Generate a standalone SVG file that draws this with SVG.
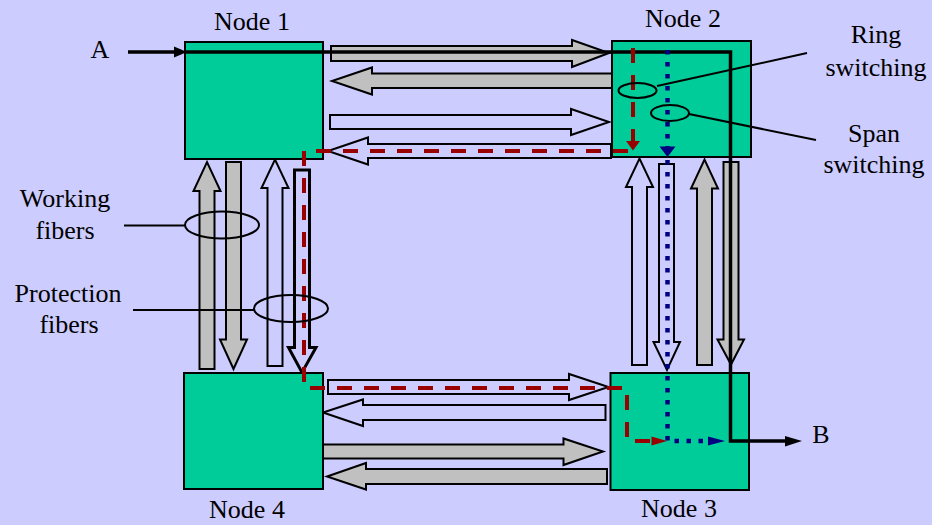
<svg xmlns="http://www.w3.org/2000/svg" width="932" height="525" viewBox="0 0 932 525">
<style>
.bg{fill:#CCCCFF}
.node{fill:#00CC99;stroke:#000;stroke-width:2}
.gray{fill:#C0C0C0;stroke:#000;stroke-width:2;stroke-linejoin:miter}
.hollow{fill:none;stroke:#000;stroke-width:2}
.hollow3{fill:none;stroke:#000;stroke-width:3}
.lbl{font-family:"Liberation Serif","Times New Roman",serif;font-size:26px;fill:#000;text-anchor:middle}
.thin{fill:none;stroke:#000;stroke-width:2}
.path{fill:none;stroke:#000;stroke-width:3.5}
.red{fill:none;stroke:#990000;stroke-width:4;stroke-dasharray:15 12}
.redh{fill:#990000}
.blue{fill:none;stroke:#000080;stroke-width:4.5;stroke-dasharray:4.5 7.5}
.blueh{fill:#000080}
.blk{fill:#000}
</style>
<rect class="bg" x="0" y="0" width="932" height="525"/>

<g id="fibers">
  <!-- top span -->
  <polygon class="gray" points="331,46 572,46 572,40 609,53 572,67 572,61 331,61"/>
  <polygon class="gray" points="612,73.5 372,73.5 372,67.5 332,81 372,94.5 372,88 612,88"/>
  <polygon class="hollow" points="330,115 571,115 571,109 609,122 571,135 571,129 330,129"/>
  <polygon class="hollow" points="611,144 368,144 368,137.5 328,151 368,164.5 368,158 611,158"/>
  <!-- left span -->
  <polygon class="gray" points="199.5,369 199.5,191 193.5,191 207,162 220.5,191 214.5,191 214.5,369"/>
  <polygon class="gray" points="226,162 241,162 241,339.5 247,339.5 233.5,369 220,339.5 226,339.5"/>
  <polygon class="hollow" points="267.5,366 267.5,188 261.5,188 275,159.5 288.5,188 282.5,188 282.5,366"/>
  <polygon class="hollow3" points="294.5,170 309.5,170 309.5,347.5 316,347.5 302,372.5 288.5,347.5 294.5,347.5"/>
  <!-- right span -->
  <polygon class="hollow" points="632,365 632,187 626,187 639.5,158.5 653,187 647,187 647,365"/>
  <polygon class="hollow" points="659,164 674,164 674,342 680,342 667,370 653.5,342 659,342"/>
  <polygon class="gray" points="697,365 697,188.5 691,188.5 704.5,159.5 718,188.5 712,188.5 712,365"/>
  <polygon class="gray" points="723.5,162 738.5,162 738.5,339.5 744,339.5 731,364.5 717.5,339.5 723.5,339.5"/>
  <!-- bottom span -->
  <polygon class="hollow" points="328,380 569,380 569,374 608.5,387 569,400 569,394 328,394"/>
  <polygon class="hollow" points="605.5,405 363,405 363,399.5 323,412.5 363,426 363,420 605.5,420"/>
  <polygon class="gray" points="323,444.5 563.5,444.5 563.5,438.5 603,451.5 563.5,465 563.5,458.5 323,458.5"/>
  <polygon class="gray" points="607,469 366,469 366,463 327,476.5 366,489.5 366,484 607,484"/>
</g>

<g id="node1">
  <rect class="node" x="185" y="42" width="138" height="117"/>
  <text class="lbl" x="252" y="30">Node 1</text>
</g>
<g id="node2">
  <rect class="node" x="612" y="41" width="139" height="116"/>
  <text class="lbl" x="683" y="27">Node 2</text>
</g>
<g id="node3">
  <rect class="node" x="610.5" y="373" width="138.5" height="117"/>
  <text class="lbl" x="679" y="517">Node 3</text>
</g>
<g id="node4">
  <rect class="node" x="184" y="373" width="139" height="116"/>
  <text class="lbl" x="247" y="518">Node 4</text>
</g>

<g id="connectors">
  <!-- working path A to B -->
  <path class="path" d="M128,52 H175"/>
  <polygon class="blk" points="174,46.5 187,52 174,57.5"/>
  <path class="path" d="M186,52 H730.5 V441 H787"/>
  <polygon class="blk" points="785,436 802,441 785,446.5"/>
  <!-- ring switching (red dashed) -->
  <path class="red" d="M633,48 V141"/>
  <polygon class="redh" points="626,141 640,141 633,150.5"/>
  <path class="red" d="M628,151 H304 V388 H627 V441 H652"/>
  <polygon class="redh" points="651.5,436.5 667,441 651.5,445.5"/>
  <!-- span switching (blue dotted) -->
  <path class="blue" d="M667.5,50 V147"/>
  <polygon class="blueh" points="659.5,146.5 675.5,146.5 667.5,157"/>
  <path class="blue" d="M667.5,160 V441 H708"/>
  <polygon class="blueh" points="708,436.5 725,441 708,445.5"/>
  <!-- callouts -->
  <ellipse class="thin" cx="637.5" cy="90.5" rx="19" ry="7.5"/>
  <line class="thin" x1="657" y1="86" x2="807" y2="53"/>
  <ellipse class="thin" cx="670" cy="113" rx="19" ry="8"/>
  <line class="thin" x1="689" y1="114" x2="816" y2="140"/>
  <ellipse class="thin" cx="222" cy="225" rx="37" ry="13.5"/>
  <line class="thin" x1="124" y1="225.5" x2="185" y2="225.5"/>
  <ellipse class="thin" cx="291" cy="308.5" rx="37" ry="13.5"/>
  <line class="thin" x1="133" y1="310" x2="254" y2="310"/>
</g>

<g id="labels">
  <text class="lbl" x="100" y="58">A</text>
  <text class="lbl" x="821" y="443">B</text>
  <text class="lbl" x="876" y="43">Ring</text>
  <text class="lbl" x="876" y="76">switching</text>
  <text class="lbl" x="874" y="142">Span</text>
  <text class="lbl" x="874" y="173">switching</text>
  <text class="lbl" x="65" y="207">Working</text>
  <text class="lbl" x="65" y="239">fibers</text>
  <text class="lbl" x="68" y="302">Protection</text>
  <text class="lbl" x="69" y="333">fibers</text>
</g>
</svg>
